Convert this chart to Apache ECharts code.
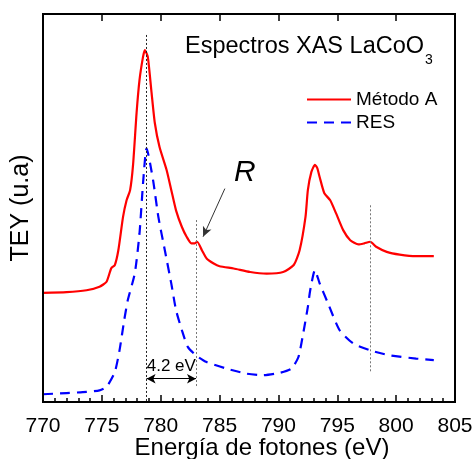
<!DOCTYPE html>
<html>
<head>
<meta charset="utf-8">
<script src="https://cdn.jsdelivr.net/npm/echarts@6/dist/echarts.min.js"></script>
<style>html,body{margin:0;padding:0;background:#fff}#c{width:476px;height:459px}</style>
</head>
<body>
<div id="c"></div>
<script>
// ---- data (energy in eV, TEY in arbitrary units) ----
const energyA = [770.0,772.0,773.7,774.8,775.4,775.8,776.1,776.4,776.8,777.1,777.4,777.65,777.95,778.2,778.5,778.65,778.9,779.2,779.5,779.9,780.5,780.9,781.3,781.8,782.2,782.6,782.9,783.1,783.5,783.9,784.5,785.0,786.2,787.6,789.0,790.4,791.3,791.8,792.3,792.5,792.8,793.1,793.3,793.5,793.9,794.4,794.9,795.5,796.1,796.8,797.3,797.8,798.3,799.2,800.3,801.7,803.2];
const teyA = [28.1,28.3,28.8,29.7,31.0,34.5,35.3,39.1,47.7,52.0,54.6,61.1,74.5,83.0,89.0,90.7,89.0,80.4,71.9,65.7,59.8,54.6,49.4,45.1,42.6,40.9,40.9,41.3,39.1,37.0,35.7,35.0,34.4,33.5,33.1,33.5,35.3,39.1,47.7,54.6,59.3,61.1,60.3,58.0,53.8,52.0,48.6,44.3,41.7,40.6,40.9,41.3,40.0,38.7,38.0,37.6,37.6];
const energyRES = [770.0,772.0,773.7,774.8,775.4,776.1,776.5,776.9,777.2,777.8,778.2,778.5,778.8,779.35,779.8,780.35,780.9,781.3,781.8,782.3,783.0,783.9,785.6,787.3,788.7,790.1,791.1,791.7,792.1,792.5,792.7,793.1,793.5,794.2,795.2,796.35,797.8,799.5,801.7,803.2];
const teyRES = [2.0,2.3,2.6,3.0,3.9,7.7,13.3,21.1,26.2,33.2,43.5,56.4,65.4,57.2,47.7,39.1,30.5,23.7,18.5,14.2,12.0,10.3,8.6,7.3,6.9,7.5,8.6,11.6,17.6,24.5,28.8,34.0,30.6,25.5,18.5,15.1,13.3,12.0,11.2,10.8];
const seriesNames = ['Método A', 'RES'];
const xTickLabels = [770, 775, 780, 785, 790, 795, 800, 805];
// annotations (data coordinates)
const peakL3 = 778.8, featureR = 783.0, featureL2 = 797.8;
const deltaLabel = '4.2 eV';

const FONT = 'Liberation Sans, Arial, sans-serif';
const chart = echarts.init(document.getElementById('c'), null, {renderer: 'canvas'});

const zip = (xs, ys) => xs.map((x, i) => [x, ys[i]]);
const dotted = (color) => ({color: color, width: 1, type: [2, 2]});

// measure title width to place the subscript
const titleMain = 'Espectros XAS LaCoO';
const titleFont = '23.5px ' + FONT;
const mctx = document.createElement('canvas').getContext('2d');
mctx.font = titleFont;
const titleW = mctx.measureText(titleMain).width;
const titleX = 185;

const GRID = {left: 43, right: 21, top: 14, bottom: 57};
const W = 476, H = 459;
const axisLineStyle = {show: true, onZero: false, lineStyle: {color: '#000', width: 2}};

chart.setOption({
  animation: false,
  backgroundColor: '#fff',
  grid: GRID,
  legend: {
    orient: 'vertical', left: 301, top: 83, itemWidth: 44, itemHeight: 14, itemGap: 0,
    itemStyle: {opacity: 0},
    textStyle: {fontFamily: FONT, fontSize: 19, color: '#000', lineHeight: 23},
    data: seriesNames
  },
  xAxis: [{
    type: 'value', position: 'bottom', min: xTickLabels[0], max: xTickLabels[xTickLabels.length - 1], interval: 5,
    axisLine: axisLineStyle,
    axisTick: {show: true, inside: true, length: 7, lineStyle: {color: '#000', width: 1.5}},
    minorTick: {show: true, splitNumber: 5, length: 4, lineStyle: {color: '#000', width: 1.5}},
    splitLine: {show: false},
    axisLabel: {fontFamily: FONT, fontSize: 21, color: '#000', margin: 14}
  }, {
    type: 'value', position: 'top', min: xTickLabels[0], max: xTickLabels[xTickLabels.length - 1], interval: 5,
    axisLine: axisLineStyle,
    axisTick: {show: true, inside: true, length: 7, lineStyle: {color: '#000', width: 1.5}},
    splitLine: {show: false},
    axisLabel: {show: false}
  }],
  yAxis: [{
    type: 'value', position: 'left', min: 0, max: 100,
    axisLine: axisLineStyle, axisTick: {show: false}, axisLabel: {show: false}, splitLine: {show: false}
  }, {
    type: 'value', position: 'right', min: 0, max: 100,
    axisLine: axisLineStyle, axisTick: {show: false}, axisLabel: {show: false}, splitLine: {show: false}
  }],
  graphic: [
    {type: 'rect', z: 100, silent: true,
     shape: {x: GRID.left, y: GRID.top, width: W - GRID.left - GRID.right, height: H - GRID.top - GRID.bottom},
     style: {fill: null, stroke: '#000', lineWidth: 2}},
    {type: 'text', x: titleX, y: 46.5, style: {text: titleMain, font: titleFont, fill: '#000', textAlign: 'left', textVerticalAlign: 'middle'}},
    {type: 'text', x: titleX + titleW + 1, y: 60, style: {text: '3', font: '14px ' + FONT, fill: '#000', textAlign: 'left', textVerticalAlign: 'middle'}},
    {type: 'text', x: 262, y: 448, style: {text: 'Energía de fotones (eV)', font: '24px ' + FONT, fill: '#000', textAlign: 'center', textVerticalAlign: 'middle'}},
    {type: 'text', x: 21, y: 208, rotation: Math.PI / 2, style: {text: 'TEY (u.a)', font: '25px ' + FONT, fill: '#000', textAlign: 'center', textVerticalAlign: 'middle'}}
  ],
  series: [{
    name: seriesNames[0], type: 'line', data: zip(energyA, teyA), smooth: 0.2, symbol: 'none',
    lineStyle: {color: '#ff0000', width: 2.2}, itemStyle: {color: '#ff0000'}, z: 3,
    markLine: {
      silent: true, symbol: ['none', 'none'], label: {show: false},
      data: [
        [{coord: [peakL3, 94.6], lineStyle: dotted('#222')}, {coord: [peakL3, 0]}],
        [{coord: [featureR, 46.9], lineStyle: dotted('#777')}, {coord: [featureR, 3.9]}],
        [{coord: [featureL2, 50.7], lineStyle: dotted('#777')}, {coord: [featureL2, 7.7]}]
      ]
    }
  }, {
    name: seriesNames[1], type: 'line', data: zip(energyRES, teyRES), smooth: 0.2, symbol: 'none',
    lineStyle: {color: '#0000ff', width: 2.2, type: [10, 7]}, itemStyle: {color: '#0000ff'}, z: 2,
    markLine: {
      silent: true, label: {show: false},
      data: [
        [{coord: [peakL3, 6.0], symbol: 'arrow', symbolSize: [7, 9], lineStyle: {color: '#000', width: 1.2, type: 'solid'}}, {coord: [featureR, 6.0], symbol: 'arrow', symbolSize: [7, 9]}],
        [{coord: [785.45, 55.0], symbol: 'none', lineStyle: {color: '#333', width: 1, type: 'solid'}}, {coord: [783.6, 42.6], symbol: 'arrow', symbolSize: [7, 10]}]
      ]
    },
    markPoint: {
      silent: true, symbol: 'circle', symbolSize: 0,
      data: [
        {coord: [780.9, 9.3], label: {show: true, formatter: deltaLabel, fontFamily: FONT, fontSize: 17, color: '#000', position: 'inside'}},
        {coord: [787.15, 59.1], label: {show: true, formatter: 'R', fontFamily: FONT, fontSize: 30, fontStyle: 'italic', color: '#000', position: 'inside'}}
      ]
    }
  }]
});
</script>
</body>
</html>
